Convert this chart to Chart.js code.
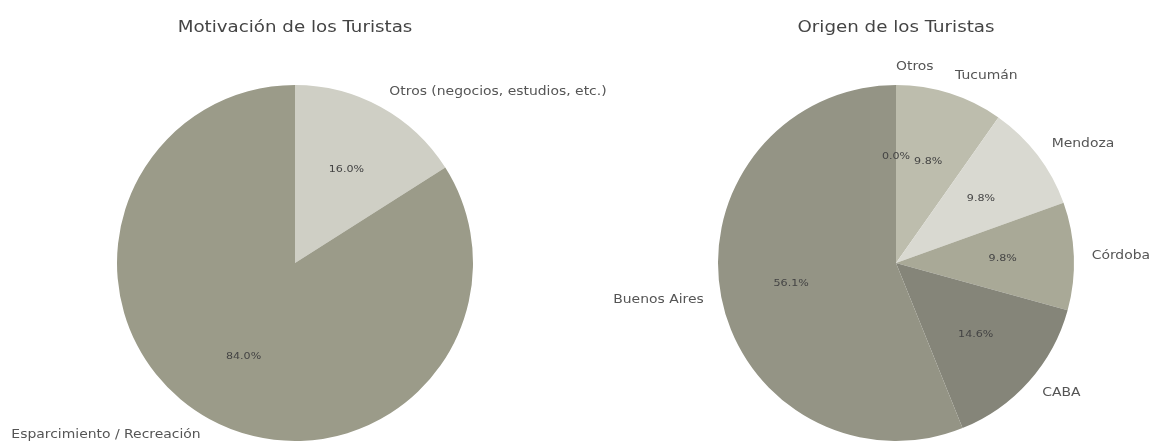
<!DOCTYPE html>
<html>
<head>
<meta charset="utf-8">
<script src="https://cdn.jsdelivr.net/npm/chart.js@4.4.1/dist/chart.umd.min.js"></script>
<style>
  body { margin: 0; background: #fff; }
  canvas { position: absolute; top: 0; }
</style>
</head>
<body>
<canvas id="motivacion" style="left:0"></canvas>
<canvas id="origen" style="left:560px"></canvas>
<script>
// data
const motivoLabels = ["Otros (negocios, estudios, etc.)", "Esparcimiento / Recreación"];
const motivoValues = [16, 84];
const motivoColors = ["#cfcfc5", "#9b9b89"];

const origenLabels = ["Otros", "Tucumán", "Mendoza", "Córdoba", "CABA", "Buenos Aires"];
const origenValues = [0, 4, 4, 4, 6, 23];
const origenColors = ["#a0a090", "#bdbdad", "#d9d9d1", "#a9a997", "#858579", "#949485"];

// the source picture is a bit stretched sideways, so text is too
function stretchText(ctx, text, x, y, sx) {
  ctx.save();
  ctx.translate(x, y);
  ctx.scale(sx, 1);
  ctx.fillText(text, 0, 0);
  ctx.restore();
}

// matplotlib-like labels: name at 1.1r, percent at 0.6r
const pieLabels = {
  id: "pieLabels",
  afterDatasetsDraw(chart, args, opts) {
    const ctx = chart.ctx;
    const meta = chart.getDatasetMeta(0);
    const values = chart.data.datasets[0].data;
    const total = values.reduce((a, b) => a + b, 0);
    ctx.save();
    ctx.textBaseline = "middle";
    // title
    ctx.font = "16px 'DejaVu Sans'";
    ctx.fillStyle = "#444";
    ctx.textAlign = "center";
    stretchText(ctx, opts.title, (chart.chartArea.left + chart.chartArea.right) / 2, 28, 1.14);
    meta.data.forEach((arc, i) => {
      const mid = (arc.startAngle + arc.endAngle) / 2;
      const r = arc.outerRadius;
      const c = Math.cos(mid), s = Math.sin(mid);
      ctx.font = "9.5px 'DejaVu Sans'";
      ctx.fillStyle = "#444";
      ctx.textAlign = "center";
      stretchText(ctx, (values[i] / total * 100).toFixed(1) + "%", arc.x + 0.6 * r * c, arc.y + 0.6 * r * s, 1.17);
      ctx.font = "12px 'DejaVu Sans'";
      ctx.fillStyle = "#555";
      ctx.textAlign = c >= 0 ? "left" : "right";
      stretchText(ctx, chart.data.labels[i], arc.x + 1.1 * r * c, arc.y + 1.1 * r * s, 1.16);
    });
    ctx.restore();
  }
};

function makePie(id, title, labels, values, colors, padLeft, padRight) {
  new Chart(document.getElementById(id), {
    type: "pie",
    data: {
      labels: labels,
      datasets: [{ data: values, backgroundColor: colors, borderWidth: 0, hoverOffset: 0 }]
    },
    options: {
      responsive: false,
      animation: false,
      layout: { padding: { top: 85, bottom: 2, left: padLeft, right: padRight } },
      plugins: {
        legend: { display: false },
        tooltip: { enabled: false },
        pieLabels: { title: title }
      }
    },
    plugins: [pieLabels]
  });
}

const cm = document.getElementById("motivacion");
cm.width = 640; cm.height = 443;
const co = document.getElementById("origen");
co.width = 593; co.height = 443;
makePie("motivacion", "Motivación de los Turistas", motivoLabels, motivoValues, motivoColors, 117, 167);
makePie("origen", "Origen de los Turistas", origenLabels, origenValues, origenColors, 158, 79);
</script>
</body>
</html>
